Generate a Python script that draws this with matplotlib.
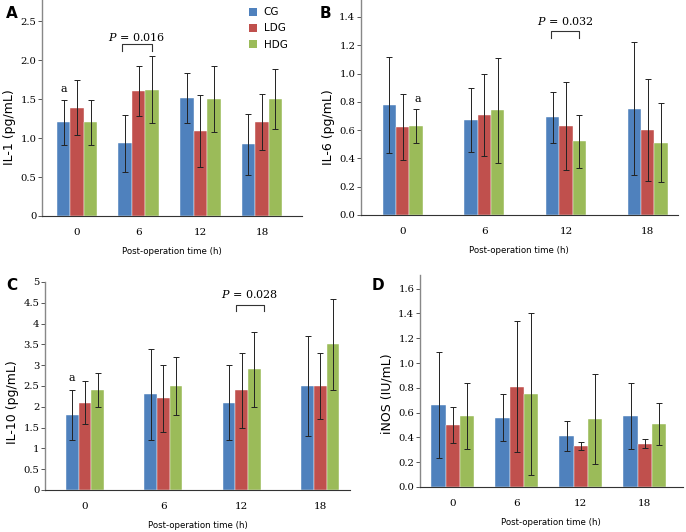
import numpy as np
import matplotlib
matplotlib.use("Agg")
import matplotlib.pyplot as plt
from matplotlib.patches import Patch

times = ['0', '6', '12', '18']
groups = ['CG', 'LDG', 'HDG']
colors = ['#4F81BD', '#C0504D', '#9BBB59']

# IL-1 (pg/mL): mean and SD per group
il1_mean = [[1.20, 0.93, 1.51, 0.92],
            [1.39, 1.60, 1.09, 1.21],
            [1.20, 1.62, 1.50, 1.50]]
il1_sd = [[0.29, 0.37, 0.32, 0.39],
          [0.35, 0.32, 0.46, 0.36],
          [0.29, 0.43, 0.42, 0.39]]

# IL-6 (pg/mL)
il6_mean = [[0.78, 0.67, 0.69, 0.75],
            [0.62, 0.71, 0.63, 0.60],
            [0.63, 0.74, 0.52, 0.51]]
il6_sd = [[0.34, 0.225, 0.18, 0.47],
          [0.235, 0.29, 0.31, 0.36],
          [0.12, 0.37, 0.19, 0.28]]

# IL-10 (pg/mL)
il10_mean = [[1.8, 2.3, 2.1, 2.5],
             [2.1, 2.2, 2.4, 2.5],
             [2.4, 2.5, 2.9, 3.5]]
il10_sd = [[0.6, 1.1, 0.9, 1.2],
           [0.51, 0.8, 0.9, 0.8],
           [0.4, 0.7, 0.9, 1.1]]

# iNOS (IU/mL)
inos_mean = [[0.66, 0.56, 0.41, 0.57],
             [0.50, 0.81, 0.33, 0.35],
             [0.57, 0.75, 0.55, 0.51]]
inos_sd = [[0.43, 0.19, 0.12, 0.265],
           [0.147, 0.53, 0.035, 0.035],
           [0.265, 0.65, 0.365, 0.17]]

sans = 'DejaVu Sans'
serif = 'DejaVu Serif'
plt.rcParams['mathtext.fontset'] = 'dejavuserif'

fig = plt.figure(figsize=(6.86, 5.32), dpi=100)


def panel(rect, means, sds, width, xlim, ylim, yticks, ylabels, ylab, ylab_y):
    ax = fig.add_axes(rect)
    x = np.arange(len(times))
    for g in range(3):
        ax.bar(x + (g - 1) * width, means[g], width, color=colors[g],
               edgecolor='white', linewidth=0.3,
               yerr=sds[g], capsize=2,
               error_kw=dict(ecolor='#222222', elinewidth=0.7, capthick=0.7))
    ax.set_xlim(*xlim)
    ax.set_ylim(*ylim)
    ax.set_xticks(x)
    ax.set_xticklabels(times, family=serif, fontsize=7.5)
    ax.set_yticks(yticks)
    ax.set_yticklabels(ylabels, family=serif, fontsize=7.2)
    ax.tick_params(axis='x', length=0, pad=9)
    ax.tick_params(axis='y', length=3, width=0.7, color='#555555', pad=1)
    for s in ['top', 'right']:
        ax.spines[s].set_visible(False)
    ax.spines['left'].set_color('#888888')
    ax.spines['bottom'].set_color('#333333')
    ax.spines['left'].set_linewidth(1.0)
    ax.spines['bottom'].set_linewidth(0.8)
    ax.set_ylabel(ylab, family=sans, fontsize=9, labelpad=3)
    ax.yaxis.label.set_y(ylab_y)
    ax.set_xlabel('Post-operation time (h)', family=sans, fontsize=6.2, labelpad=7)
    return ax


def bracket(ax, i, x0, x1, y0, y1, ytext, label):
    ax.plot([i + x0, i + x0, i + x1, i + x1], [y0, y1, y1, y0],
            color='#333333', lw=0.8, clip_on=False)
    ax.text(i + (x0 + x1) / 2, ytext, label, ha='center', va='center',
            family=serif, fontsize=8)


# Panel A
axA = panel([0.0612, 0.594, 0.379, 0.406], il1_mean, il1_sd, 0.22,
            (-0.57, 3.65), (0, 2.77), [0, 0.5, 1.0, 1.5, 2.0, 2.5],
            ['0', '0.5', '1.0', '1.5', '2.0', '2.5'], 'IL-1 (pg/mL)', 0.41)
bracket(axA, 1, -0.27, 0.21, 2.12, 2.2, 2.30, r'$P$ = 0.016')
axA.text(-0.22, 1.63, 'a', ha='center', va='center', family=serif, fontsize=8)
handles = [Patch(facecolor=c, edgecolor='none') for c in colors]
axA.legend(handles, groups, loc='upper left', bbox_to_anchor=(0.76, 1.01),
           frameon=False, handlelength=0.8, handleheight=0.8,
           handletextpad=0.6, labelspacing=0.6,
           prop={'family': sans, 'size': 7.5})

# Panel B
axB = panel([0.526, 0.596, 0.462, 0.404], il6_mean, il6_sd, 0.163,
            (-0.514, 3.37), (0, 1.52), np.arange(0, 1.41, 0.2),
            ['0.0', '0.2', '0.4', '0.6', '0.8', '1.0', '1.2', '1.4'],
            'IL-6 (pg/mL)', 0.41)
bracket(axB, 2, -0.18, 0.16, 1.25, 1.30, 1.37, r'$P$ = 0.032')
axB.text(0.19, 0.82, 'a', ha='center', va='center', family=serif, fontsize=8)

# Panel C
axC = panel([0.0656, 0.079, 0.4446, 0.391], il10_mean, il10_sd, 0.162,
            (-0.51, 3.38), (0, 5), np.arange(0, 5.01, 0.5),
            ['0', '0.5', '1', '1.5', '2', '2.5', '3', '3.5', '4', '4.5', '5'],
            'IL-10 (pg/mL)', 0.42)
bracket(axC, 2, -0.077, 0.28, 4.29, 4.44, 4.72, r'$P$ = 0.028')
axC.text(-0.162, 2.70, 'a', ha='center', va='center', family=serif, fontsize=8)

# Panel D
axD = panel([0.612, 0.0846, 0.383, 0.3985], inos_mean, inos_sd, 0.223,
            (-0.516, 3.59), (0, 1.71), np.arange(0, 1.61, 0.2),
            ['0.0', '0.2', '0.4', '0.6', '0.8', '1.0', '1.2', '1.4', '1.6'],
            'iNOS (IU/mL)', 0.44)

for lab, (px, py) in zip('ABCD', [(12, 14), (325, 14), (12, 286), (378, 285)]):
    fig.text(px / 686, 1 - py / 532, lab, family=sans, fontsize=11,
             fontweight='bold', ha='center', va='center')

fig.savefig('out.png', dpi=100)
